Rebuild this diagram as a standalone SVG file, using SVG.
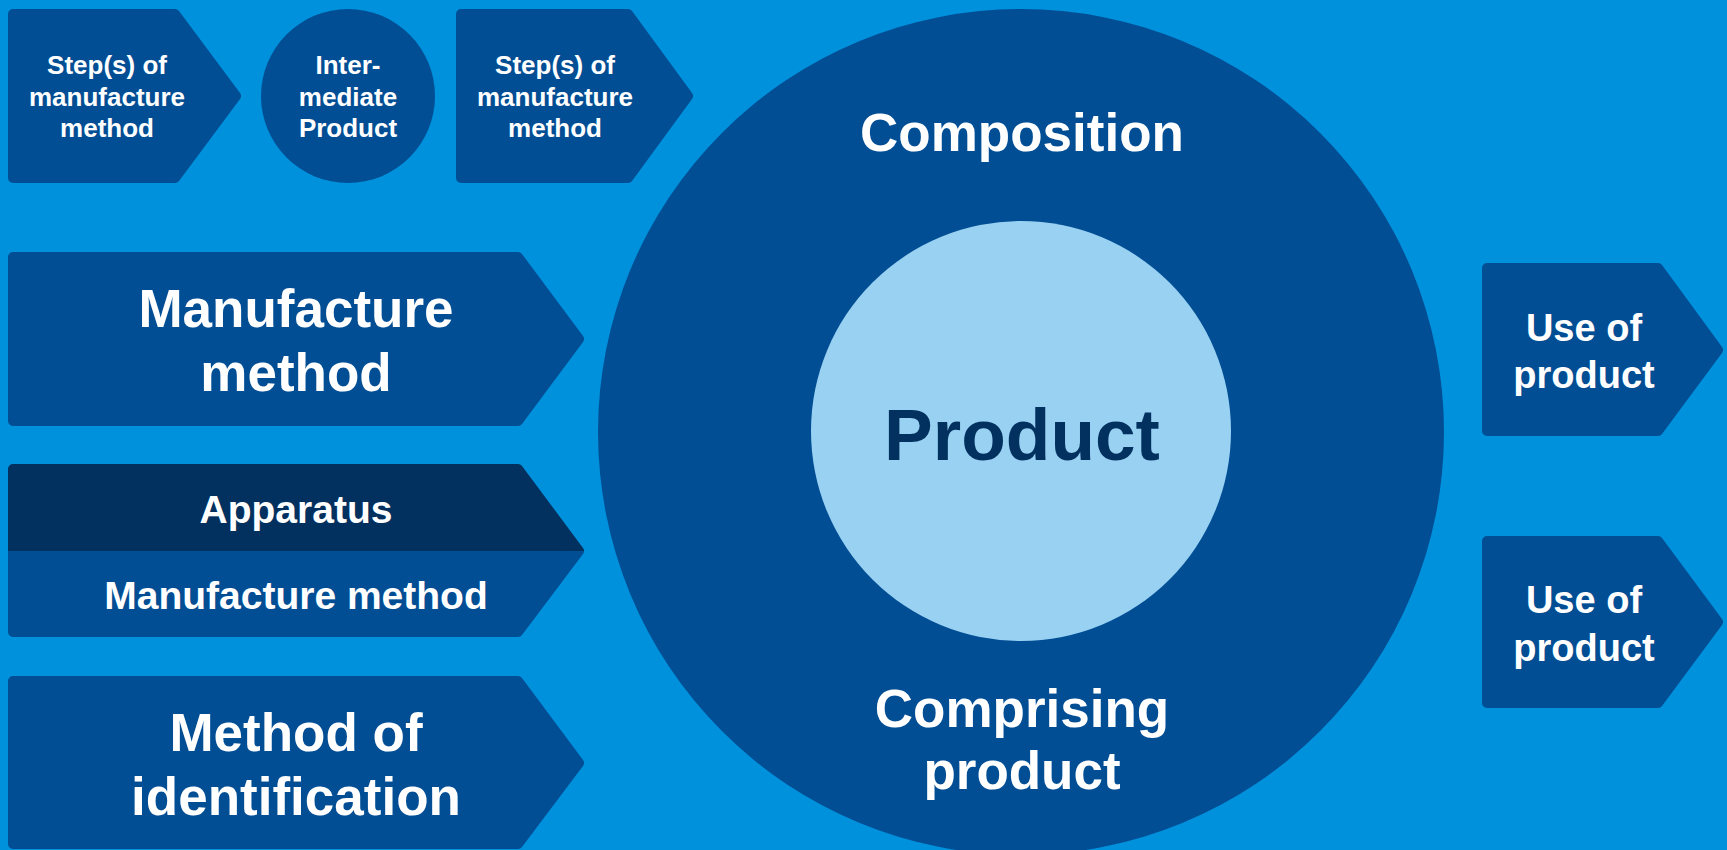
<svg xmlns="http://www.w3.org/2000/svg" width="1727" height="850" viewBox="0 0 1727 850">
<style>
.sh{fill:#024E95;stroke:#024E95;stroke-width:10;stroke-linejoin:round}
.ap{fill:#02305F;stroke:#02305F;stroke-width:10;stroke-linejoin:round}
text{font-family:"Liberation Sans",Arial,sans-serif;font-weight:bold;fill:#FFFFFF;text-anchor:middle}
.s{font-size:26px}
.m{font-size:53px}
.a{font-size:39px}
.u{font-size:38px}
</style>
<defs>
<clipPath id="ctop"><rect x="0" y="0" width="700" height="551"/></clipPath>
<clipPath id="cbot"><rect x="0" y="551" width="700" height="300"/></clipPath>
</defs>
<rect x="0" y="0" width="1727" height="850" fill="#0091DC"/>
<g id="big-circle">
<circle cx="1021" cy="432" r="423" fill="#024E95"/>
<text class="m" x="1022" y="151">Composition</text>
<text class="m" x="1022" y="727">Comprising</text>
<text class="m" x="1022" y="789">product</text>
</g>
<g id="product">
<circle cx="1021" cy="431" r="210" fill="#99D1F2"/>
<text x="1022" y="460" style="font-size:73px;fill:#02305F">Product</text>
</g>
<g id="step1">
<polygon class="sh" points="13,14 175,14 236,96 175,178 13,178"/>
<text class="s" x="107" y="74">Step(s) of</text>
<text class="s" x="107" y="106">manufacture</text>
<text class="s" x="107" y="137">method</text>
</g>
<g id="intermediate">
<circle cx="348" cy="96" r="87" fill="#024E95"/>
<text class="s" x="348" y="74">Inter-</text>
<text class="s" x="348" y="106">mediate</text>
<text class="s" x="348" y="137">Product</text>
</g>
<g id="step2">
<polygon class="sh" points="461,14 628,14 688,96 628,178 461,178"/>
<text class="s" x="555" y="74">Step(s) of</text>
<text class="s" x="555" y="106">manufacture</text>
<text class="s" x="555" y="137">method</text>
</g>
<g id="manufacture-method">
<polygon class="sh" points="13,257 518,257 579,339 518,421 13,421"/>
<text class="m" x="296" y="327">Manufacture</text>
<text class="m" x="296" y="391">method</text>
</g>
<g id="apparatus">
<polygon class="ap" clip-path="url(#ctop)" points="13,469 518,469 579,551 518,632 13,632"/>
<polygon class="sh" clip-path="url(#cbot)" points="13,469 518,469 579,551 518,632 13,632"/>
<text class="a" x="296" y="523">Apparatus</text>
<text class="a" x="296" y="609">Manufacture method</text>
</g>
<g id="method-identification">
<polygon class="sh" points="13,681 518,681 579,763 518,844 13,844"/>
<text class="m" x="296" y="751">Method of</text>
<text class="m" x="296" y="815">identification</text>
</g>
<g id="use1">
<polygon class="sh" points="1487,268 1658,268 1718,350 1658,431 1487,431"/>
<text class="u" x="1584" y="341">Use of</text>
<text class="u" x="1584" y="388">product</text>
</g>
<g id="use2">
<polygon class="sh" points="1487,541 1658,541 1718,622 1658,703 1487,703"/>
<text class="u" x="1584" y="613">Use of</text>
<text class="u" x="1584" y="661">product</text>
</g>
<g id="connectors"></g>
</svg>
